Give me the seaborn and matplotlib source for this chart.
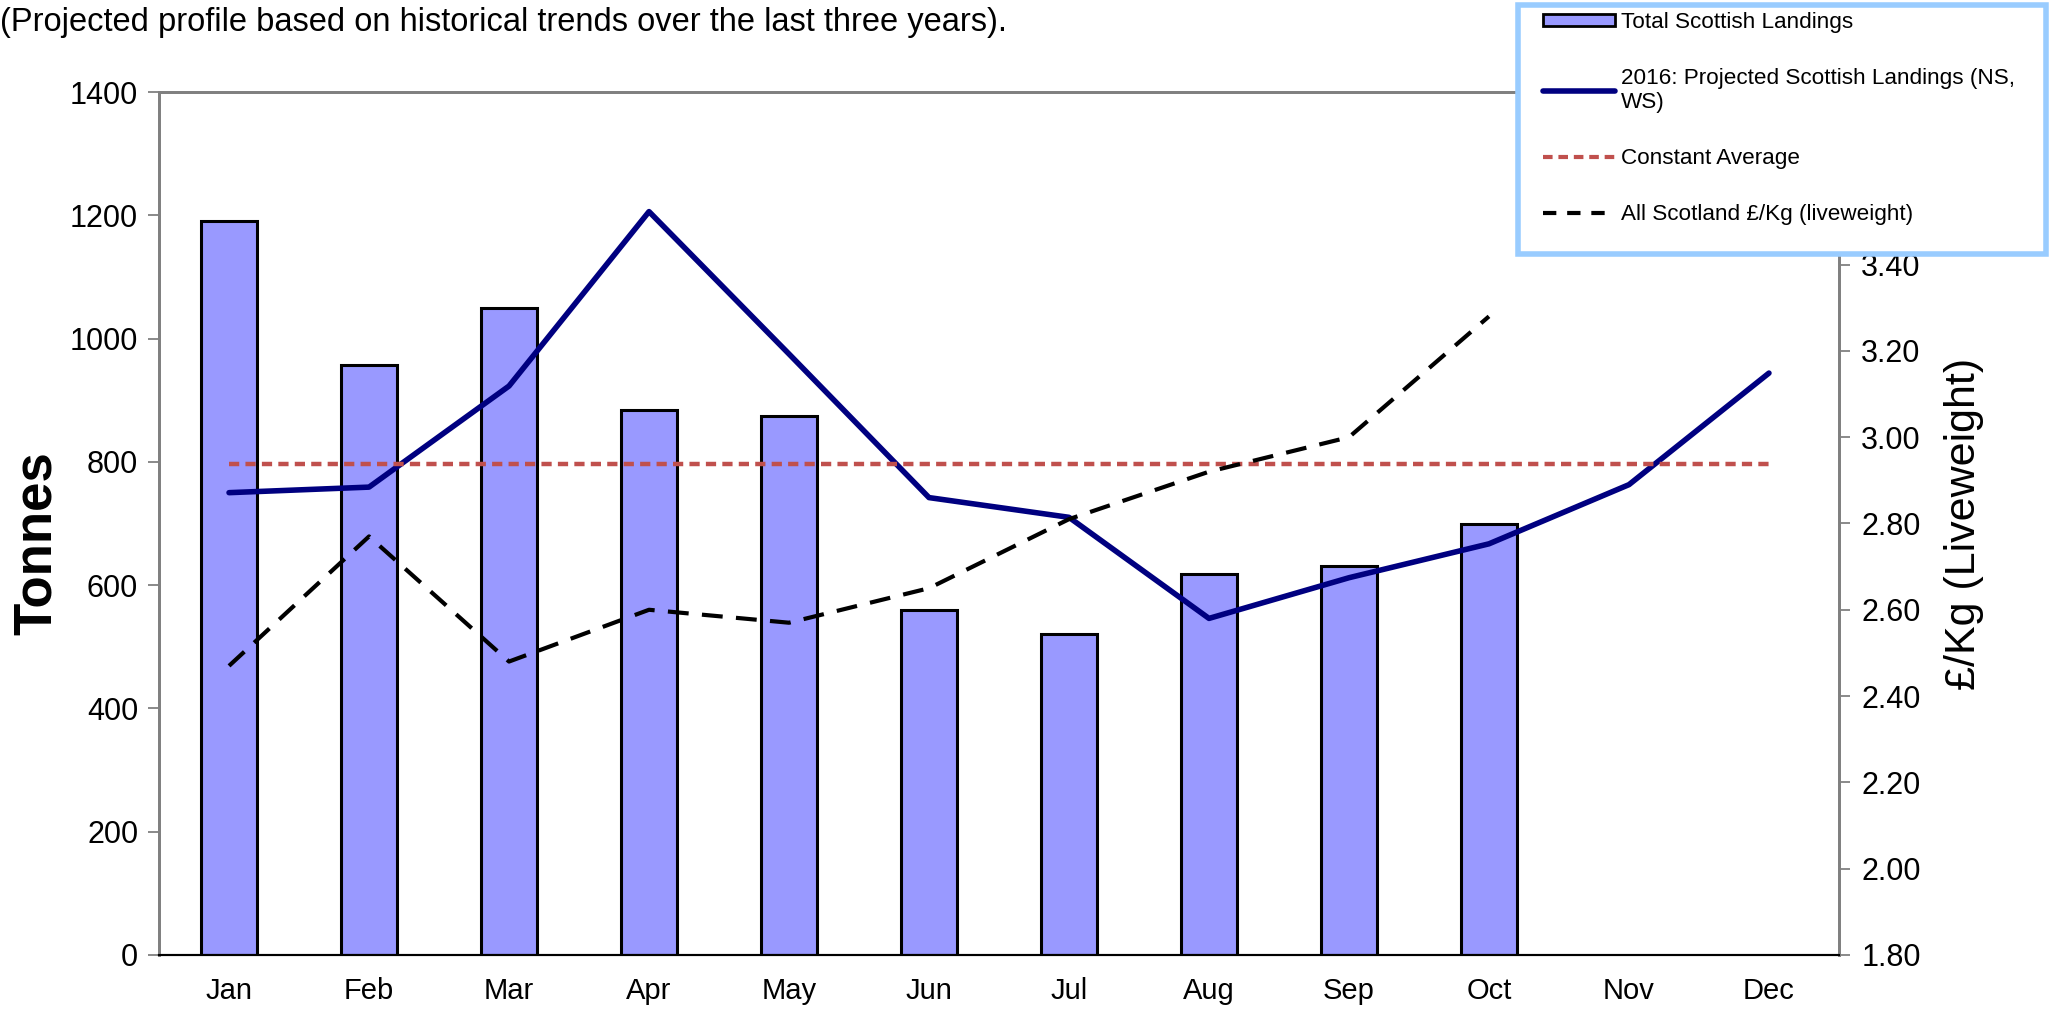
import numpy as np
import pandas as pd
import matplotlib
matplotlib.use("Agg")
import matplotlib.pyplot as plt
from matplotlib.patches import Patch, Rectangle
from matplotlib.lines import Line2D
import seaborn as sns

months = ["Jan", "Feb", "Mar", "Apr", "May", "Jun", "Jul", "Aug", "Sep", "Oct", "Nov", "Dec"]
landings = [1190, 957, 1050, 884, 874, 560, 520, 618, 631, 699]
projected = [750, 759, 923, 1206, 975, 742, 710, 546, 612, 667, 763, 944]
const_avg = [797, 797, 797, 797, 797, 797, 797, 797, 797, 797, 797, 797]
price = [2.47, 2.77, 2.48, 2.60, 2.57, 2.65, 2.81, 2.92, 3.00, 3.28]
left_ticks = [0, 200, 400, 600, 800, 1000, 1200, 1400]
right_ticks = [1.80, 2.00, 2.20, 2.40, 2.60, 2.80, 3.00, 3.20, 3.40, 3.60, 3.80]
right_labels = ["1.80", "2.00", "2.20", "2.40", "2.60", "2.80", "3.00", "3.20", "3.40", "", ""]

title_text = "(Projected profile based on historical trends over the last three years)."
lbl_bars = "Total Scottish Landings"
lbl_proj = "2016: Projected Scottish Landings (NS,\nWS)"
lbl_avg = "Constant Average"
lbl_price = "All Scotland £/Kg (liveweight)"

sns.set_theme(style="white")
plt.rcParams['font.family'] = ['Liberation Sans', 'DejaVu Sans']
plt.rcParams['text.color'] = 'black'
plt.rcParams['xtick.color'] = 'black'
plt.rcParams['ytick.color'] = 'black'
plt.rcParams['axes.labelcolor'] = 'black'

pos = np.arange(len(months))
df_bar = pd.DataFrame({"x": pos[:len(landings)], "y": landings})

fig = plt.figure(figsize=(20.6, 10.1), dpi=100)
ax = fig.add_axes([0.0772, 0.0545, 0.8155, 0.8544])

sns.barplot(data=df_bar, x="x", y="y", native_scale=True, width=0.4,
            color="#9999FF", saturation=1, edgecolor="black", linewidth=2.2, ax=ax)
sns.lineplot(x=pos, y=projected, color="#000080", linewidth=4, ax=ax)
sns.lineplot(x=pos, y=const_avg, color="#C0504D", linewidth=3.2, ax=ax)
ax.lines[-1].set_dashes([2.3, 1.4])

ax2 = ax.twinx()
sns.lineplot(x=pos[:len(price)], y=price, color="black", linewidth=3, ax=ax2)
ax2.lines[-1].set_dashes([5.0, 3.2])

ax.set_xlim(-0.5, 11.5)
ax.set_ylim(0, 1400)
ax2.set_ylim(1.8, 3.8)
ax.set_yticks(left_ticks)
ax.set_yticklabels([str(t) for t in left_ticks])
ax2.set_yticks(right_ticks)
ax2.set_yticklabels(right_labels)
ax.set_xticks(pos)
ax.set_xticklabels(months)
ax.set_xticks(np.arange(-0.5, 12.0, 1.0), minor=True)
ax.tick_params(axis="x", which="major", length=0, labelsize=21, pad=16, labelcolor="black")
ax.tick_params(axis="x", which="minor", length=9, width=1.3, color="#555555", direction="out")
ax.tick_params(axis="y", length=8, width=1.3, color="#808080", labelsize=22, pad=7,
               direction="out", labelcolor="black")
ax2.tick_params(axis="y", length=8, width=1.3, color="#808080", labelsize=22, pad=8,
                direction="out", labelcolor="black")
ax.grid(False)
ax2.grid(False)

for a in (ax, ax2):
    for s in ["top", "right", "left"]:
        a.spines[s].set_color("#808080")
        a.spines[s].set_linewidth(2)
    a.spines["bottom"].set_color("black")
    a.spines["bottom"].set_linewidth(1.5)

ax.set_xlabel("")
ax.set_ylabel("Tonnes", fontsize=38, fontweight="bold")
ax.yaxis.set_label_coords(-0.058, 0.477)
ax2.set_ylabel("£/Kg (Liveweight)", fontsize=31)
ax2.yaxis.set_label_coords(1.0625, 0.50)

fig.text(0.0, 0.978, title_text, fontsize=23.5, ha="left", va="center")

# legend frame (drawn as a figure-level box)
frame = Rectangle((0.7369, 0.7485), 0.2563, 0.2465, transform=fig.transFigure,
                  facecolor="white", edgecolor="#99CCFF", linewidth=4, zorder=9)
fig.patches.append(frame)

handles = [
    Patch(facecolor="#9999FF", edgecolor="black", linewidth=2),
    Line2D([], [], color="#000080", linewidth=4),
    Line2D([], [], color="#C0504D", linewidth=3, dashes=[2.3, 1.4]),
    Line2D([], [], color="black", linewidth=3, dashes=[3.2, 2.6]),
]
labels = [lbl_bars, lbl_proj, lbl_avg, lbl_price]
leg = fig.legend(handles, labels, loc="upper left", bbox_to_anchor=(0.745, 0.996),
                 fontsize=16.2, frameon=False,
                 handlelength=3.2, handleheight=0.5, handletextpad=0.3,
                 labelspacing=1.55, borderpad=0.35, borderaxespad=0)
leg.set_zorder(10)

fig.savefig("out.png", dpi=100)
